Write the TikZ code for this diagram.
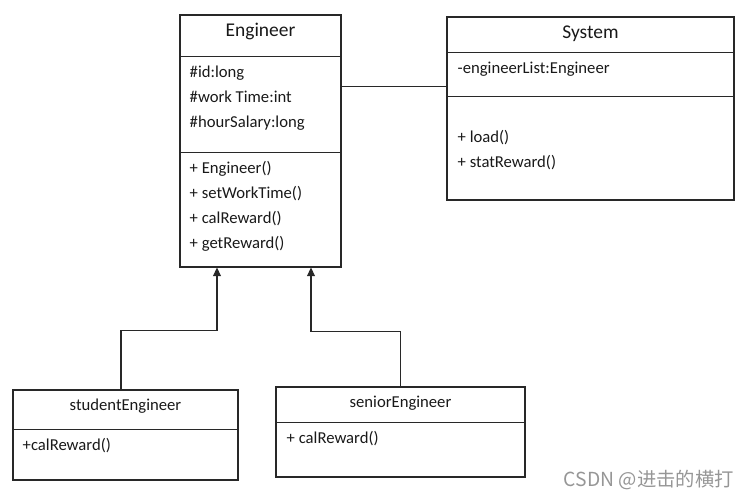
\documentclass[tikz,border=0pt]{standalone}
\usepackage{fontspec}
\setmainfont{Carlito}
\newfontfamily\cjkfont{Noto Sans CJK SC}
\usepackage{tikz}
\usetikzlibrary{arrows.meta,positioning,calc}
\definecolor{umlline}{RGB}{40,40,40}
\definecolor{umltext}{RGB}{25,25,25}
\definecolor{markgray}{RGB}{150,150,150}
\tikzstyle{classbox} = [rectangle, draw=umlline, line width=0.8pt, inner sep=0pt]
\tikzstyle{classname} = [anchor=base, inner sep=0pt, text=umltext, font=\fontsize{14.6}{17}\selectfont]
\tikzstyle{subname} = [anchor=base, inner sep=0pt, text=umltext, font=\fontsize{12.5}{15}\selectfont]
\tikzstyle{member} = [anchor=base west, inner sep=0pt, text=umltext, font=\fontsize{12.5}{15}\selectfont]
\tikzstyle{divider} = [draw=umlline, line width=0.8pt]
\tikzstyle{inherit} = [draw=umlline, line width=0.8pt, -{Triangle[width=6pt,length=6.5pt]}]

\begin{document}
\begin{tikzpicture}[x=0.75pt, y=-0.75pt]
\useasboundingbox (0,0) rectangle (750,500);
% Engineer
\node[classbox, minimum width=120.75pt, minimum height=189pt] (eng) at (260.5,141) {};
\node[classname] (engname) at ($(eng.north)+(0,22)$) {Engineer};
\draw[divider] ($(eng.north west)+(0,42)$) -- ($(eng.north east)+(0,42)$);
\node[member] (engid) at ($(eng.north west)+(10,63)$) {\#id:long};
\node[member] (engwork) at ($(eng.north west)+(10,88)$) {\#work Time:int};
\node[member] (engsalary) at ($(eng.north west)+(10,113)$) {\#hourSalary:long};
\draw[divider] ($(eng.north west)+(0,138)$) -- ($(eng.north east)+(0,138)$);
\node[member] (engctor) at ($(eng.north west)+(10,159)$) {+ Engineer()};
\node[member] (engset) at ($(eng.north west)+(10,184)$) {+ setWorkTime()};
\node[member] (engcal) at ($(eng.north west)+(10,209)$) {+ calReward()};
\node[member] (engget) at ($(eng.north west)+(10,234)$) {+ getReward()};

% System
\node[classbox, minimum width=215.25pt, minimum height=137.25pt] (sys) at (590.5,108.5) {};
\node[classname] (sysname) at ($(sys.north)+(0,22)$) {System};
\draw[divider] ($(sys.north west)+(0,36)$) -- ($(sys.north east)+(0,36)$);
\node[member] (syslist) at ($(sys.north west)+(11,57)$) {-engineerList:Engineer};
\draw[divider] ($(sys.north west)+(0,80)$) -- ($(sys.north east)+(0,80)$);
\node[member] (sysload) at ($(sys.north west)+(11,126)$) {+ load()};
\node[member] (sysstat) at ($(sys.north west)+(11,151)$) {+ statReward()};

% studentEngineer
\node[classbox, minimum width=168.75pt, minimum height=67.5pt] (stu) at (125.5,435) {};
\node[subname] (stuname) at ($(stu.north)+(0,21)$) {studentEngineer};
\draw[divider] ($(stu.north west)+(0,40)$) -- ($(stu.north east)+(0,40)$);
\node[member] (stucal) at ($(stu.north west)+(10,61)$) {+calReward()};

% seniorEngineer
\node[classbox, minimum width=186.75pt, minimum height=67.5pt] (sen) at (400.5,432) {};
\node[subname] (senname) at ($(sen.north)+(0,21)$) {seniorEngineer};
\draw[divider] ($(sen.north west)+(0,36)$) -- ($(sen.north east)+(0,36)$);
\node[member] (sencal) at ($(sen.north west)+(11,57)$) {+ calReward()};

% Relations
\coordinate (assoc) at ($(eng.north east)+(0,72)$);
\draw[divider] (assoc) -- (assoc -| sys.west);
\draw[inherit] ($(stu.north)+(-4.5,0)$) |- ($(eng.south)+(-43.5,63)$) -- ($(eng.south)+(-43.5,0)$);
\draw[inherit] (sen.north) |- ($(eng.south)+(50.5,64)$) -- ($(eng.south)+(50.5,0)$);

% Watermark
\node[anchor=east, inner sep=0pt, text=markgray, font=\cjkfont\fontsize{14.5}{17}\selectfont] (mark) at (734,480) {CSDN @进击的横打};
\end{tikzpicture}
\end{document}
